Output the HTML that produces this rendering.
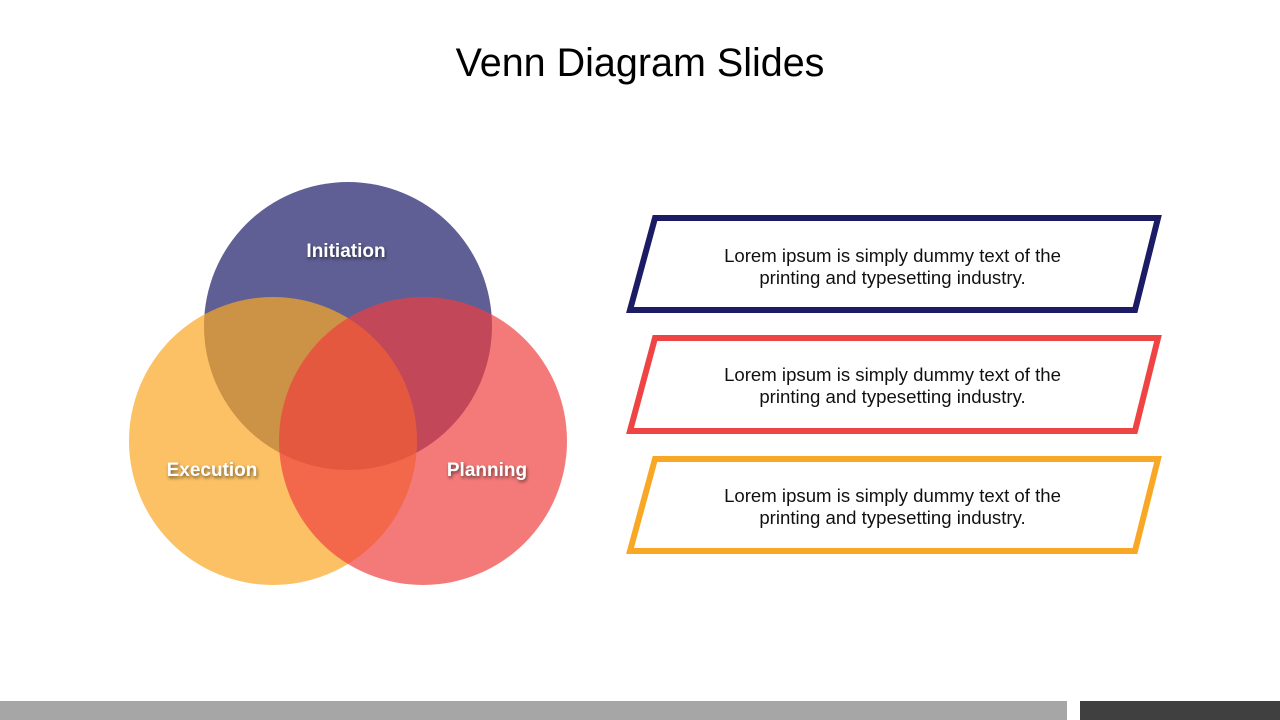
<!DOCTYPE html>
<html><head><meta charset="utf-8"><style>
html,body{margin:0;padding:0;background:#fff;}
body{width:1280px;height:720px;position:relative;overflow:hidden;font-family:"Liberation Sans",sans-serif;}
.title{position:absolute;left:0;width:1280px;top:41px;text-align:center;font-size:39.5px;color:#000;}
.t{position:absolute;left:640px;width:505px;text-align:center;font-size:18.6px;line-height:22px;color:#111;}
.lbl{position:absolute;color:#fff;font-weight:bold;font-size:19px;text-shadow:1px 2px 3px rgba(0,0,0,.55);transform:translateX(-50%);}
</style></head><body>
<div class="title">Venn Diagram Slides</div>
<svg width="1280" height="720" style="position:absolute;left:0;top:0">
<circle cx="348" cy="326" r="144" fill="#5f5f95"/>
<circle cx="273" cy="441" r="144" fill="#f9a825" fill-opacity="0.71"/>
<circle cx="423" cy="441" r="144" fill="#ef3f3f" fill-opacity="0.69"/>
<polygon points="655,218 1158,218 1135,310 630,310" fill="none" stroke="#1c1c64" stroke-width="6"/>
<polygon points="655,338 1158,338 1135,431 630,431" fill="none" stroke="#ee4444" stroke-width="6"/>
<polygon points="655,459 1158,459 1135,551 630,551" fill="none" stroke="#f9a825" stroke-width="6"/>
<rect x="0" y="701" width="1067" height="19" fill="#a6a6a6"/>
<rect x="1080" y="701" width="200" height="19" fill="#404040"/>
</svg>
<div class="lbl" style="left:346px;top:241px">Initiation</div>
<div class="lbl" style="left:212px;top:460px">Execution</div>
<div class="lbl" style="left:487px;top:460px">Planning</div>
<div class="t" style="top:245px">Lorem ipsum is simply dummy text of the<br>printing and typesetting industry.</div>
<div class="t" style="top:364px">Lorem ipsum is simply dummy text of the<br>printing and typesetting industry.</div>
<div class="t" style="top:485px">Lorem ipsum is simply dummy text of the<br>printing and typesetting industry.</div>
</body></html>
